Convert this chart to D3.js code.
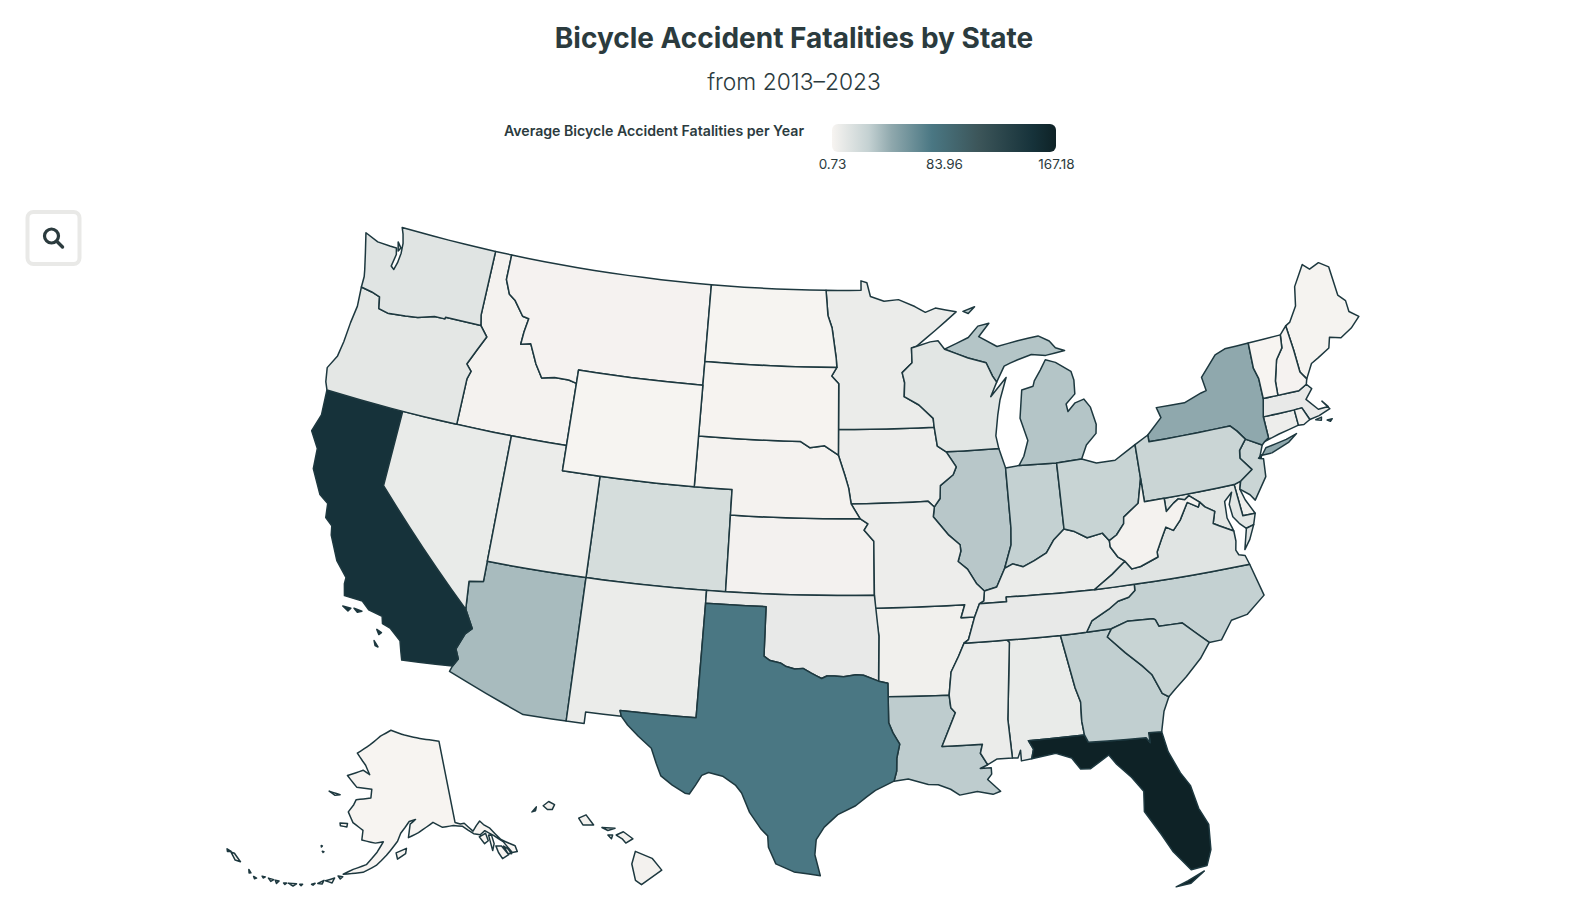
<!DOCTYPE html>
<html>
  <head>
    <meta charset="UTF-8">
    <title>Bicycle Accident Fatalities by State</title>
    <script src="https://d3js.org/d3.v7.min.js"></script>
    <style>
      html, body { margin: 0; padding: 0; background: #fff; }
      svg { display: block; }
      text { font-family: "Inter", "Noto Sans", sans-serif; fill: #2b3b3e; }
    </style>
  </head>
  <body>
    <div id="graph"></div>
    <script>

// values per state
const stateNames = ["Alabama","Alaska","Arizona","Arkansas","California","Colorado","Connecticut","Delaware","Florida","Georgia","Hawaii","Idaho","Illinois","Indiana","Iowa","Kansas","Kentucky","Louisiana","Maine","Maryland","Massachusetts","Michigan","Minnesota","Mississippi","Missouri","Montana","Nebraska","Nevada","New Hampshire","New Jersey","New Mexico","New York","North Carolina","North Dakota","Ohio","Oklahoma","Oregon","Pennsylvania","Rhode Island","South Carolina","South Dakota","Tennessee","Texas","Utah","Vermont","Virginia","Washington","West Virginia","Wisconsin","Wyoming"];
const stateValues = [8,0.9,37,4,150,19,6,5,167.18,29,3,2.5,32,28,6,2.8,7,30,1.8,12,9,33,7,7,6,2,2.5,8,2,25,7,45,28,1,26,9,11,25,3,26,1.2,9,75,7,0.73,13,13,2.5,12,1];

// colour ramp and legend ticks
const rampValues = [0.73,28,45,75,110,150,167.18];
const rampColors = ["#f7f4f1","#c4d1d2","#8fa8ad","#4a7783","#3c5559","#16323a","#0e2226"];
const legendTicks = [0.73,83.96,167.18];

// shared borders, lon/lat
const columbia = [[-124.05,46.27],[-123.4,46.2],[-122.9,46.1],[-122.75,45.65],[-122.2,45.57],[-121.2,45.65],[-120.5,45.72],[-119.6,45.92],[-119,45.93],[-118.98,46],[-116.92,46]];
const snake = [[-116.92,46],[-116.46,45.61],[-116.85,45],[-117.22,44.4],[-116.9,44.15],[-117.03,43.83],[-117.03,42]];
const idMt = [[-116.05,48],[-115.7,47.45],[-115.3,47.25],[-114.7,46.7],[-114.33,46.65],[-114.45,46.1],[-114.5,45.6],[-113.95,45.7],[-113.45,44.95],[-113,44.45],[-112.3,44.55],[-111.5,44.55],[-111.05,44.47]];
const colorado = [[-114.63,35],[-114.14,34.3],[-114.43,34.05],[-114.72,33.4],[-114.52,33.03],[-114.72,32.72]];
const redRiver = [[-94.48,33.64],[-95.2,33.88],[-95.55,33.9],[-96.15,33.82],[-96.6,33.85],[-96.95,33.85],[-97.2,33.75],[-97.45,33.85],[-97.7,33.95],[-98.1,34.13],[-98.5,34.1],[-98.95,34.2],[-99.2,34.32],[-99.7,34.4],[-100,34.56]];
const laTx = [[-94.04,33.02],[-94.04,32],[-93.85,31.6],[-93.55,31.15],[-93.7,30.6],[-93.72,30.1],[-93.85,29.7]];
const missUpper = [[-92.8,44.75],[-92,44.4],[-91.25,43.85],[-91.22,43.5],[-91.1,42.75],[-90.64,42.51]];
const missIowa = [[-90.64,42.51],[-90.15,41.9],[-90.34,41.6],[-91.05,41.2],[-91.1,40.7],[-91.42,40.38]];
const missMo = [[-91.42,40.38],[-91.5,40],[-90.75,39.25],[-90.2,38.85],[-90.18,38.6],[-90.35,38.2],[-89.9,37.88],[-89.5,37.3],[-89.13,36.98]];
const missLow = [[-90.3,35],[-90.6,34.5],[-91,33.9],[-91.15,33],[-91.1,32.5],[-90.9,32.3],[-91.6,31]];
const pearl = [[-91.6,31],[-89.73,31],[-89.85,30.65],[-89.55,30.18]];
const ohioWest = [[-89.13,36.98],[-88.5,37.1],[-88.03,37.8]];
const ohioIn = [[-88.03,37.8],[-87.6,37.95],[-87.1,37.8],[-86.5,38],[-85.85,38.25],[-85.4,38.73],[-84.82,39.1]];
const ohioOh = [[-84.82,39.1],[-84.3,38.95],[-83.7,38.65],[-82.9,38.75],[-82.6,38.42]];
const ohioWv = [[-82.6,38.42],[-82.2,38.6],[-81.75,39],[-81.7,39.25],[-80.85,39.7],[-80.52,40.64]];
const kyWv = [[-82.6,38.42],[-82.6,38.17],[-82.3,37.75],[-81.97,37.54]];
const wvVa = [[-81.97,37.54],[-81.68,37.2],[-81.23,37.24],[-80.3,37.5],[-80.3,37.7],[-79.95,38.2],[-79.65,38.6],[-79.3,38.42],[-78.87,38.77],[-78.35,39.4],[-77.83,39.14],[-77.72,39.32]];
const potomacWv = [[-77.72,39.32],[-78.2,39.65],[-78.45,39.52],[-78.77,39.6],[-79.05,39.47],[-79.49,39.2],[-79.48,39.72]];
const potomacVa = [[-77.72,39.32],[-77.5,39.1],[-77.05,38.85],[-77.25,38.4],[-76.95,38.25],[-76.3,37.95]];
const tnCarolina = [[-81.68,36.59],[-81.7,36.35],[-82.05,36.12],[-82.6,36.03],[-83.1,35.77],[-84,35.4],[-84.32,34.99]];
const ncSc = [[-83.1,35],[-82.3,35.2],[-81.04,35.15],[-80.93,35.1],[-80.8,34.82],[-79.67,34.8],[-78.55,33.86]];
const savannah = [[-83.1,35],[-83.35,34.7],[-82.6,34],[-81.9,33.4],[-81.5,33],[-81.15,32.2],[-80.87,32.03]];
const alGa = [[-85.6,34.98],[-85.18,32.87],[-85,32.3],[-85.05,31.55],[-85,31]];
const hudsonPa = [[-75.35,42],[-75.05,41.75],[-74.7,41.36]];
const delaware = [[-74.7,41.36],[-75.13,40.98],[-75.2,40.68],[-74.72,40.15],[-75.42,39.8]];
const vtNh = [[-71.5,45.01],[-71.6,44.5],[-72.05,44.1],[-72.4,43.3],[-72.46,42.73]];
const nyVt = [[-73.35,45.01],[-73.4,44],[-73.25,43.55],[-73.27,42.75]];
const stCroix = [[-92.02,46.71],[-92.29,46.66],[-92.29,46.08],[-92.87,45.7],[-92.75,45.3],[-92.8,44.75]];
const upperWi = [[-90.4,46.55],[-89.1,46.14],[-88.1,45.9],[-87.8,45.35],[-87.6,45.1]];
const rev = a => a.slice().reverse();

// state outlines, one list of rings each
const AL = [[[-88.2,35],...alGa,[-87.6,31],[-87.4,30.65],[-87.52,30.28],[-88,30.23],[-88,30.65],[-88.15,30.35],[-88.4,30.37],[-88.47,31.9],[-88.1,34.9]]];
const AK = [
  [[-141,69.65],[-141,60.3],[-139.9,60],[-139,60],[-137.5,58.9],[-136.5,59.4],[-135.5,59.8],[-134.9,59.3],[-133.8,58.7],[-132.3,57.1],[-130,55.9],[-130,55.2],[-131,55.3],[-132,56.8],[-133.5,57.8],[-135,58.6],[-136.2,58.3],[-137.5,58.6],[-139.5,59.7],[-141.5,60],[-144,60],[-146,60.7],[-148.5,60],[-149.5,59.7],[-151.8,59.2],[-151.3,60.7],[-150,61.2],[-151.5,61],[-153.5,59.7],[-154.2,58.8],[-156.5,57.2],[-158.5,56],[-161,55.1],[-163.2,54.8],[-164.8,54.6],[-163,55.3],[-160.5,56],[-158.5,57.5],[-157.3,58.7],[-159,58.5],[-162,58.7],[-162,59.8],[-164.5,60.5],[-166,61.6],[-165,62.5],[-164.6,63.1],[-161,63.5],[-161,64.5],[-165,64.5],[-168,65.6],[-164,66.5],[-162,66.1],[-163.5,67.1],[-166.5,68.3],[-163,69.5],[-160,70.6],[-156.6,71.35],[-152,70.8],[-148,70.4],[-144,70]],
  [[-154.5,57.5],[-152.3,58],[-152.5,57.4],[-154.2,56.8]],
  [[-171.7,63.4],[-168.8,63.3],[-170,63.1]],
  [[-167.4,60.2],[-165.7,60.3],[-165.7,59.9],[-167.2,59.9]],
  [[-136.5,58.1],[-135,58.3],[-134.9,57.4],[-135.8,57.2]],
  [[-134.5,58],[-133.9,57.9],[-133.9,56.9],[-134.6,56.2]],
  [[-133.7,56.6],[-132.6,56.4],[-131.8,55.2],[-133.2,55],[-133.6,55.8]],
  [[-132.2,56.3],[-131.6,55.9],[-131.2,55.2],[-131.9,55.4]],
  [[-170.3,57.25],[-170.05,57.25],[-170.2,57.1]],
  [[-169.8,56.65],[-169.45,56.65],[-169.6,56.55]],
  [[-165.7,54.3],[-164.8,54.3],[-165.2,54]],
  [[-167.9,53.5],[-166.3,54],[-166.6,53.4]],
  [[-169.2,53],[-168.2,53.5],[-168.4,53.05]],
  [[-170.3,52.75],[-169.7,52.95],[-170,52.7]],
  [[-172.4,52.4],[-171.9,52.5],[-172.1,52.3]],
  [[-174.5,52.15],[-173,52.35],[-173.5,52]],
  [[-175.3,52],[-174.8,52.1],[-175,51.9]],
  [[-176.9,52],[-176.2,52.05],[-176.5,51.7]],
  [[-178.2,51.95],[-177.2,52],[-177.6,51.7]],
  [[-179.4,51.9],[-178.8,51.95],[-179.1,51.75]],
  [[179.2,51.5],[179.8,51.45],[179.5,51.3]],
  [[177.9,52],[178.5,51.75],[178.2,51.65]],
  [[175.9,52.4],[174.2,52.95],[173.5,52.9],[174.9,52.3]],
  [[173.5,52.95],[172.6,53],[172.9,52.75]]
];
const AZ = [[[-114.04,37],[-109.05,37],[-109.05,31.33],[-111.07,31.33],[-114.81,32.49],...rev(colorado),[-114.74,36.1],[-114.04,36.2]]];
const AR = [[[-94.62,36.5],[-90.15,36.5],[-90.37,36],[-89.7,36],[-90.07,35.13],...missLow.slice(0,4),[-94.04,33.02],[-94.04,33.55],[-94.48,33.64],[-94.43,35.4]]];
const CA = [
  [[-124.21,42],[-120,42],[-120,39],...colorado,[-117.12,32.53],[-117.25,32.85],[-117.4,33.25],[-118,33.65],[-118.4,33.75],[-118.5,34.03],[-119.2,34.15],[-119.6,34.42],[-120.5,34.45],[-120.65,34.9],[-120.65,35.15],[-121.3,35.7],[-121.9,36.6],[-122,36.96],[-122.4,37.2],[-122.5,37.75],[-123,38],[-123.7,38.9],[-123.8,39.7],[-124.35,40.3],[-124.1,41]],
  [[-120.45,34.04],[-120.05,34.04],[-120.15,33.9]],
  [[-119.9,34.07],[-119.5,34.03],[-119.7,33.95]],
  [[-118.6,33.48],[-118.35,33.4],[-118.45,33.3]],
  [[-118.6,33.03],[-118.35,32.82],[-118.5,32.85]]
];
const CO = [[[-109.05,41],[-102.05,41],[-102.05,37],[-109.05,37]]];
const CT = [[[-73.49,42.05],[-71.8,42.02],[-71.79,41.4],[-72.9,41.25],[-73.73,41.1],[-73.49,41.21]]];
const DE = [[[-75.79,39.72],[-75.42,39.8],[-75.55,39.5],[-75.4,39.05],[-75.05,38.45],[-75.69,38.46]]];
const FL = [
  [[-87.6,31],[-85,31],[-84.86,30.7],[-82.2,30.57],[-82.05,30.36],[-82.05,30.75],[-81.45,30.72],[-81.3,29.9],[-80.9,29],[-80.55,28.45],[-80.35,27.5],[-80.03,26.8],[-80.12,25.8],[-80.4,25.2],[-81.1,25.13],[-81.75,25.95],[-82.15,26.7],[-82.75,27.7],[-82.65,28.5],[-83.1,29.1],[-83.7,29.7],[-84,30.1],[-84.9,29.65],[-85.35,29.68],[-85.7,30.15],[-86.4,30.4],[-87.52,30.28],[-87.4,30.65]],
  [[-81.85,24.55],[-81.3,24.72],[-80.55,25],[-81.2,24.6]]
];
const GA = [[[-85.6,34.98],[-84.32,34.99],...savannah,[-81.2,31.5],[-81.45,30.72],[-82.05,30.75],[-82.05,30.36],[-82.2,30.57],[-84.86,30.7],...rev(alGa)]];
const HI = [
  [[-155.9,20.25],[-155.2,19.97],[-154.8,19.5],[-155.65,18.93],[-155.9,19.1],[-156.05,19.75]],
  [[-156.7,20.9],[-156.4,21.03],[-156,20.75],[-156.3,20.58],[-156.45,20.75]],
  [[-157.3,21.2],[-156.75,21.17],[-157.05,21.08]],
  [[-157.05,20.9],[-156.85,20.9],[-156.9,20.75]],
  [[-158.28,21.57],[-157.97,21.7],[-157.65,21.3],[-158.1,21.3]],
  [[-159.78,22.05],[-159.55,22.22],[-159.3,22.1],[-159.4,21.9],[-159.6,21.9]],
  [[-160.25,21.8],[-160.07,22],[-160.1,21.85]]
];
const ID = [[[-117.03,49],[-116.05,49],...idMt,[-111.05,42],[-114.04,42],...rev(snake),[-117.04,46.4]]];
const IL = [[[-90.64,42.51],[-87.8,42.49],[-87.53,41.71],[-87.53,39.35],[-87.6,38.7],[-88.03,37.8],...rev(ohioWest),...rev(missMo),...rev(missIowa)]];
const IN = [[[-87.53,41.71],[-86.8,41.76],[-84.8,41.7],...rev(ohioIn),[-87.6,38.7],[-87.53,39.35]]];
const IA = [[[-96.45,43.5],[-91.22,43.5],[-91.1,42.75],...missIowa,[-91.73,40.61],[-95.77,40.58],[-95.9,41.2],[-96.1,41.7],[-96.45,42.49]]];
const KS = [[[-102.05,40],[-95.31,40],[-94.9,39.8],[-95.1,39.55],[-94.61,39.11],[-94.62,37],[-102.05,37]]];
const KY = [[...ohioWest,...ohioIn,...ohioOh,...kyWv,[-82.7,37.1],[-83.68,36.6],[-88.07,36.68],[-88.07,36.5],[-89.42,36.5],[-89.2,36.6]]];
const LA = [[...laTx.slice(0,1),...missLow.slice(3),...pearl.slice(1),[-89.9,30.05],[-89.4,30.05],[-89.4,29.8],[-89.6,29.6],[-89.05,29.1],[-89.4,29],[-90.1,29.15],[-90.9,29.05],[-91.3,29.3],[-91.85,29.5],[-92.3,29.53],[-93.2,29.77],...rev(laTx).slice(0,-1)]];
const ME = [[[-71.08,45.3],[-70.8,45.4],[-70.25,45.95],[-70,46.7],[-69.23,47.46],[-68.9,47.2],[-68.3,47.35],[-67.8,47.07],[-67.78,45.9],[-67.45,45.6],[-67.45,45.15],[-67,44.85],[-67.6,44.5],[-68.3,44.25],[-68.9,44.4],[-69.1,44],[-69.8,43.75],[-70.25,43.6],[-70.72,43.07],[-70.98,43.4],[-71,44.3]]];
const MD = [[[-79.48,39.72],[-75.79,39.72],[-75.69,38.46],[-75.05,38.45],[-75.25,38.03],[-75.65,37.95],[-75.95,38.2],[-76.2,38.5],[-76.25,39],[-76,39.45],[-76.45,39.15],[-76.5,38.5],[-76.35,38.1],...rev(potomacVa),...potomacWv.slice(1,-1)]];
const MA = [
  [[-73.5,42.05],[-73.27,42.75],[-72.46,42.73],[-71.3,42.7],[-70.82,42.87],[-70.6,42.65],[-71.05,42.3],[-70.55,41.8],[-70,41.8],[-70.25,42.07],[-69.95,41.7],[-70.6,41.55],[-71.13,41.5],[-71.38,42.02],[-71.8,42.02]],
  [[-70.83,41.43],[-70.5,41.47],[-70.55,41.35]],
  [[-70.25,41.3],[-69.97,41.3],[-70.1,41.22]]
];
const MI = [
  [...rev(upperWi),[-89,46.95],[-88.4,47.37],[-87.75,47.45],[-88.4,46.95],[-87.4,46.5],[-86.2,46.65],[-85,46.75],[-84.4,46.5],[-84.1,46.2],[-83.6,46.05],[-84.7,45.95],[-85.5,46.05],[-86.3,45.9],[-86.75,45.8],[-87.1,45.7]],
  [[-84.75,45.78],[-84.2,45.63],[-83.4,45.2],[-83.3,44.85],[-83.35,44.3],[-83.9,43.95],[-83.85,43.65],[-83.4,43.95],[-82.9,44.05],[-82.6,43.7],[-82.42,43],[-82.5,42.65],[-83.1,42.25],[-83.45,41.73],[-84.8,41.7],[-86.8,41.76],[-86.5,42.1],[-86.2,42.7],[-86.5,43.6],[-86.25,44.7],[-85.6,44.8],[-85.5,45],[-85.1,45.4]],
  [[-89.2,48],[-88.5,48.15],[-88.9,47.9]]
];
const MN = [[[-97.23,49],[-95.15,49],[-95.15,49.38],[-94.8,49.3],[-94.6,48.75],[-93.8,48.55],[-92.95,48.6],[-92,48.3],[-91.4,48.05],[-90.8,48.2],[-89.6,48],[-90.9,47.3],...stCroix,...missUpper.slice(1,4),[-96.45,43.5],[-96.45,45.3],[-96.85,45.6],[-96.56,45.94],[-96.6,46.3],[-96.85,47.5],[-97.1,48]]];
const MS = [[...missLow,...pearl.slice(1),[-89.1,30.38],[-88.4,30.37],[-88.47,31.9],[-88.1,34.9],[-88.2,35]]];
const MO = [[[-95.77,40.58],[-91.73,40.61],...missMo,[-89.2,36.6],[-89.42,36.5],[-89.7,36],[-90.37,36],[-90.15,36.5],[-94.62,36.5],[-94.62,37],[-94.61,39.11],[-95.1,39.55],[-94.9,39.8],[-95.31,40]]];
const MT = [[[-116.05,49],[-104.05,49],[-104.05,45],[-111.05,45],...rev(idMt)]];
const NE = [[[-104.05,43],[-98.5,43],[-98,42.77],[-97.2,42.85],[-96.45,42.49],[-96.1,41.7],[-95.9,41.2],[-95.77,40.58],[-95.31,40],[-102.05,40],[-102.05,41],[-104.05,41]]];
const NV = [[[-120,42],[-114.04,42],[-114.04,36.2],[-114.74,36.1],[-114.63,35],[-120,39]]];
const NH = [[...vtNh,[-71.3,42.7],[-70.82,42.87],[-70.72,43.07],[-70.98,43.4],[-71,44.3],[-71.08,45.3]]];
const NJ = [[...delaware,[-75.55,39.5],[-75.1,39.2],[-74.9,38.95],[-74.1,39.75],[-74,40.45],[-74.2,40.5],[-73.9,40.99]]];
const NM = [[[-109.05,37],[-103,37],[-103,36.5],[-103.05,32],[-106.62,32],[-106.53,31.78],[-108.21,31.78],[-108.21,31.33],[-109.05,31.33]]];
const NY = [
  [[-79.76,42.27],[-78.9,42.85],[-79.05,43.27],[-77.5,43.25],[-76.5,43.5],[-76.2,43.55],[-76.3,44.1],[-75.3,44.85],[-74.7,45],...nyVt,[-73.5,42.05],[-73.49,41.21],[-73.73,41.1],[-73.9,40.99],...rev(hudsonPa),[-79.76,42]],
  [[-74.03,40.6],[-73.75,40.85],[-72.6,40.98],[-72,41.1],[-72.5,40.85],[-73.5,40.6]],
  [[-74.25,40.52],[-74.05,40.62],[-74.1,40.52]]
];
const NC = [[...rev(tnCarolina),[-75.87,36.55],[-75.5,35.25],[-76.5,34.65],[-77.3,34.55],[-77.95,33.87],...rev(ncSc)]];
const ND = [[[-104.05,49],[-97.23,49],[-97.1,48],[-96.85,47.5],[-96.6,46.3],[-96.56,45.94],[-104.05,45.94]]];
const OH = [[[-84.8,41.7],[-83.45,41.73],[-82.7,41.5],[-81.7,41.5],[-80.52,41.98],...rev(ohioWv),...rev(ohioOh)]];
const OK = [[[-103,37],[-94.62,37],[-94.43,35.4],...redRiver,[-100,36.5],[-103,36.5]]];
const OR = [[...columbia,...snake.slice(1),[-124.21,42],[-124.4,42.3],[-124.55,42.84],[-124.2,43.4],[-124.1,44],[-124.05,44.8],[-123.95,45.5]]];
const PA = [[[-80.52,41.98],[-79.76,42.27],[-79.76,42],...hudsonPa,...delaware.slice(1),[-75.79,39.72],[-79.48,39.72],[-80.52,39.72]]];
const RI = [[[-71.8,42.02],[-71.38,42.02],[-71.13,41.5],[-71.5,41.37],[-71.79,41.4]]];
const SC = [[...ncSc,[-79.1,33.3],[-79.9,32.7],[-80.5,32.3],...rev(savannah).slice(0,-1)]];
const SD = [[[-104.05,45.94],[-96.56,45.94],[-96.85,45.6],[-96.45,45.3],[-96.45,43.5],[-96.45,42.49],[-97.2,42.85],[-98,42.77],[-98.5,43],[-104.05,43],[-104.05,45]]];
const TN = [[[-90.3,35],[-90.07,35.13],[-89.7,36],[-89.42,36.5],[-88.07,36.5],[-88.07,36.68],[-83.68,36.6],...tnCarolina,[-85.6,34.98],[-88.2,35]]];
const TX = [[[-103,36.5],[-100,36.5],...rev(redRiver),[-94.04,33.55],...laTx,[-94.7,29.35],[-95.1,29.1],[-95.6,28.75],[-96.4,28.4],[-97,27.9],[-97.35,27.4],[-97.4,26.8],[-97.15,25.97],[-97.65,26.03],[-98.3,26.1],[-99.1,26.4],[-99.45,27.05],[-99.5,27.5],[-99.8,27.75],[-100.35,28.4],[-100.75,29.15],[-101.05,29.45],[-101.65,29.77],[-102.3,29.88],[-102.6,29.75],[-102.85,29.35],[-103.1,28.98],[-103.3,29],[-103.9,29.28],[-104.45,29.6],[-104.7,30.05],[-105,30.65],[-105.65,31.07],[-106.2,31.47],[-106.53,31.78],[-106.62,32],[-103.05,32]]];
const UT = [[[-114.04,42],[-111.05,42],[-111.05,41],[-109.05,41],[-109.05,37],[-114.04,37]]];
const VT = [[...nyVt.slice(0,1),...vtNh,...rev(nyVt).slice(0,-1)]];
const VA = [
  [[-83.68,36.6],[-82.7,37.1],...wvVa,...potomacVa.slice(1),[-76.3,37.55],[-76.4,37.2],[-76.3,37],[-76,36.92],[-75.87,36.55],[-81.68,36.59]],
  [[-75.95,37.15],[-75.65,37.95],[-75.25,38.03],[-75.6,37.5]]
];
const WA = [
  [[-124.72,48.38],[-123.9,48.17],[-123.15,48.15],[-122.75,48.15],[-122.65,47.9],[-122.75,47.4],[-122.55,47.3],[-122.45,47.6],[-122.4,48],[-122.45,48.4],[-122.6,48.75],[-122.76,49],[-117.03,49],[-117.04,46.4],...rev(columbia),[-124.07,46.7],[-124.15,46.95],[-124.4,47.6]],
  [[-122.75,48.4],[-122.5,48.2],[-122.6,48.05]]
];
const WV = [[[-80.52,40.64],[-80.52,39.72],[-79.48,39.72],...rev(potomacWv).slice(1),...rev(wvVa).slice(1),...rev(kyWv).slice(1),...ohioWv.slice(1,-1)]];
const WI = [[[-92.02,46.71],[-91.2,46.87],[-90.75,46.9],...upperWi,[-88,44.55],[-87.05,45.25],[-87.5,44.4],[-87.7,43.8],[-87.9,43],[-87.8,42.49],[-90.64,42.51],...rev(missUpper).slice(1),...rev(stCroix).slice(1,-1)]];
const WY = [[[-111.05,45],[-104.05,45],[-104.05,41],[-111.05,41]]];

const stateShapes = [AL,AK,AZ,AR,CA,CO,CT,DE,FL,GA,HI,ID,IL,IN,IA,KS,KY,LA,ME,MD,MA,MI,MN,MS,MO,MT,NE,NV,NH,NJ,NM,NY,NC,ND,OH,OK,OR,PA,RI,SC,SD,TN,TX,UT,VT,VA,WA,WV,WI,WY];

const svgWidth = 1588;
const svgHeight = 916;

const svg = d3.select("#graph")
  .append("svg")
  .attr("width", svgWidth)
  .attr("height", svgHeight);

const color = d3.scaleLinear()
  .domain(rampValues)
  .range(rampColors);

// long straight borders follow the parallels, so split them before projecting
function splitEdges(ring) {
  const out = [];
  ring.forEach((p, i) => {
    const q = ring[(i + 1) % ring.length];
    const n = Math.max(1, Math.ceil(Math.abs(q[0] - p[0])));
    for (let k = 0; k < n; k++) {
      out.push([p[0] + (q[0] - p[0]) * k / n, p[1] + (q[1] - p[1]) * k / n]);
    }
  });
  out.push(out[0]);
  return out;
}

function toFeature(rings, i) {
  const polys = rings.map(r => {
    const ring = splitEdges(r);
    // d3 wants small rings clockwise
    return d3.geoArea({type: "Polygon", coordinates: [ring]}) > 2 * Math.PI ? [ring.reverse()] : [ring];
  });
  return {
    type: "Feature",
    properties: {name: stateNames[i], value: stateValues[i]},
    geometry: {type: "MultiPolygon", coordinates: polys}
  };
}

const features = stateShapes.map(toFeature);

const projection = d3.geoAlbersUsa()
  .scale(1452)
  .translate([835, 552]);

const path = d3.geoPath(projection);

svg.append("g")
  .selectAll("path")
  .data(features)
  .enter()
  .append("path")
  .attr("d", path)
  .attr("fill", d => color(d.properties.value))
  .attr("stroke", "#1d383f")
  .attr("stroke-width", 1.5)
  .attr("stroke-linejoin", "round");

// titles
svg.append("text")
  .attr("x", 794)
  .attr("y", 48)
  .attr("text-anchor", "middle")
  .attr("font-size", 28)
  .attr("font-weight", 700)
  .text("Bicycle Accident Fatalities by State");

svg.append("text")
  .attr("x", 794)
  .attr("y", 90)
  .attr("text-anchor", "middle")
  .attr("font-size", 22.8)
  .attr("font-weight", 300)
  .text("from 2013\u20132023");

// legend
svg.append("text")
  .attr("x", 804)
  .attr("y", 136)
  .attr("text-anchor", "end")
  .attr("font-size", 14.15)
  .attr("font-weight", 600)
  .text("Average Bicycle Accident Fatalities per Year");

const legendScale = d3.scaleLinear()
  .domain([0.73, 167.18])
  .range([832, 1056]);

const grad = svg.append("defs")
  .append("linearGradient")
  .attr("id", "ramp");

grad.selectAll("stop")
  .data(rampValues)
  .enter()
  .append("stop")
  .attr("offset", d => (d - 0.73) / (167.18 - 0.73))
  .attr("stop-color", d => color(d));

svg.append("rect")
  .attr("x", legendScale(0.73))
  .attr("y", 124)
  .attr("width", legendScale(167.18) - legendScale(0.73))
  .attr("height", 28)
  .attr("rx", 6)
  .attr("fill", "url(#ramp)");

const legendAxis = d3.axisBottom(legendScale)
  .tickValues(legendTicks)
  .tickFormat(d3.format(".2f"))
  .tickSize(0)
  .tickPadding(0);

const legendG = svg.append("g")
  .attr("transform", "translate(0,159)")
  .call(legendAxis);

legendG.select(".domain").remove();
legendG.selectAll("text")
  .attr("font-family", "Inter")
  .attr("font-size", 13.5)
  .style("fill", "#2b3b3e");

// search button
const btn = svg.append("g")
  .attr("transform", "translate(53.5,238)");

btn.append("rect")
  .attr("x", -26)
  .attr("y", -26)
  .attr("width", 52)
  .attr("height", 52)
  .attr("rx", 6)
  .attr("fill", "#fff")
  .attr("stroke", "#e9e9e7")
  .attr("stroke-width", 4);

btn.append("circle")
  .attr("cx", -2)
  .attr("cy", -2)
  .attr("r", 7)
  .attr("fill", "none")
  .attr("stroke", "#2b3b3e")
  .attr("stroke-width", 3.2);

btn.append("line")
  .attr("x1", 3.5)
  .attr("y1", 3.5)
  .attr("x2", 9)
  .attr("y2", 9)
  .attr("stroke", "#2b3b3e")
  .attr("stroke-width", 3.4)
  .attr("stroke-linecap", "round");

    </script>
  </body>
</html>
